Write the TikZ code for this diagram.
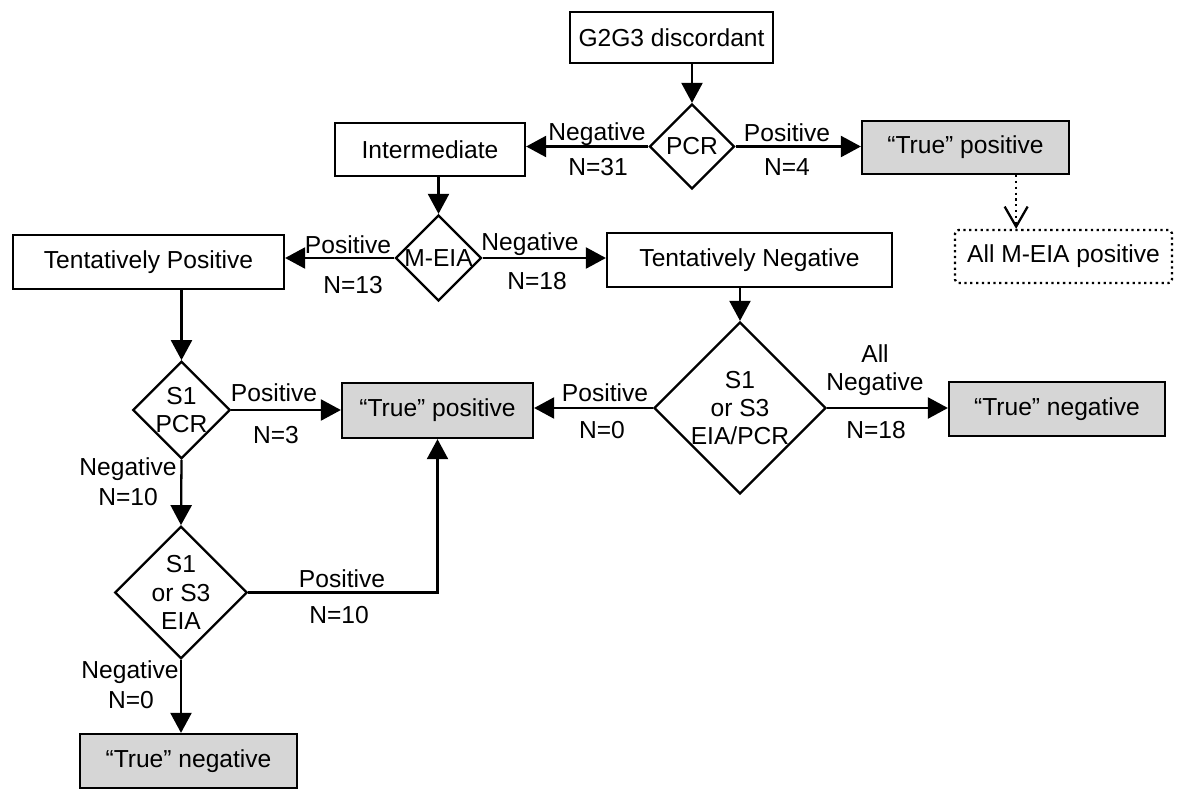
\documentclass[tikz,border=0pt]{standalone}
\usepackage{fontspec}
\setmainfont{Liberation Sans}
\usetikzlibrary{arrows.meta, shapes.geometric}
\definecolor{cshade}{HTML}{D6D6D6}
\tikzset{
  every picture/.style={font=\fontsize{14}{16}\selectfont, line width=1.3pt},
  box/.style={draw, rectangle, align=center, inner sep=2pt, minimum width=#1, minimum height=1.06cm},
  box/.default=4cm,
  outcome/.style={box=#1, fill=cshade},
  choice/.style={draw, diamond, align=center, inner sep=0pt, minimum width=#1, minimum height=#1},
  arrow/.style={-{Triangle[length=4mm, width=4.2mm]}},
  lbl/.style={inner sep=0pt, align=center},
}

\begin{document}
\begin{tikzpicture}[x=0.02cm, y=-0.02cm]
  \useasboundingbox (0,0) rectangle (1179,788);
  % boxes and decisions
  \node[box=4.06cm, minimum height=1.02cm] (disc) at (671.5,37.5) {G2G3 discordant};
  \node[choice=1.7cm] (pcr) at (692,146.5) {PCR};
  \node[box=3.8cm] (inter) at (430,149.5) {Intermediate};
  \node[outcome=4.14cm] (truepos1) at (965.5,147.5) {“True” positive};
  \node[box=4.34cm, dotted, rounded corners=2pt] (allpos) at (1063.5,256.5) {All M-EIA positive};
  \node[choice=1.72cm] (meia) at (438.5,258) {M-EIA};
  \node[box=5.42cm, minimum height=1.08cm] (tentpos) at (148.5,262) {Tentatively Positive};
  \node[box=5.7cm, minimum height=1.08cm] (tentneg) at (749.5,260) {Tentatively Negative};
  \node[choice=1.9cm] (sonepcr) at (181.5,410) {S1\\PCR};
  \node[outcome=3.82cm, minimum height=1.1cm] (truepos2) at (437.5,410.5) {“True” positive};
  \node[choice=3.32cm] (sboth) at (740,408) {S1\\or S3\\EIA/PCR};
  \node[outcome=4.32cm, minimum height=1.08cm] (trueneg1) at (1057,409) {“True” negative};
  \node[choice=2.65cm] (seia) at (181,592.5) {S1\\or S3\\EIA};
  \node[outcome=4.34cm, minimum height=1.08cm] (trueneg2) at (188.5,761) {“True” negative};

  % connectors
  \draw[arrow] (pcr.north |- disc.south) -- (pcr.north);
  \draw[arrow] (pcr.west) -- (pcr.west -| inter.east);
  \draw[arrow] (pcr.east) -- (pcr.east -| truepos1.west);
  \coordinate (dottop) at ([xshift=-1.08cm]truepos1.south east);
  \draw[dotted, -{Straight Barb[length=4mm, width=4.6mm]}] (dottop) -- (dottop |- allpos.north);
  \draw[arrow] (meia.north |- inter.south) -- (meia.north);
  \draw[arrow] (meia.west) -- (meia.west -| tentpos.east);
  \draw[arrow] (meia.east) -- (meia.east -| tentneg.west);
  \draw[arrow] (sonepcr.north |- tentpos.south) -- (sonepcr.north);
  \draw[arrow] (sboth.north |- tentneg.south) -- (sboth.north);
  \draw[arrow] (sonepcr.east) -- (sonepcr.east -| truepos2.west);
  \draw[arrow] (sboth.west) -- (sboth.west -| truepos2.east);
  \draw[arrow] (sboth.east) -- (sboth.east -| trueneg1.west);
  \draw[arrow] (sonepcr.south) -- (seia.north);
  \draw[arrow] (seia.east) -| (truepos2.south);
  \draw[arrow] (seia.south) -- (seia.south |- trueneg2.north);

  % branch labels
  \foreach \txt/\px/\py [count=\i] in {Negative/597/134, N=31/598/167, Positive/787/133, N=4/787/167,
      Positive/348/245, N=13/353/285, Negative/530/244, N=18/537/281,
      Positive/274/393, N=3/276/435, Negative/128/469, N=10/128/497,
      Positive/605/393, N=0/602/430, All\\Negative/875/370, N=18/876/430,
      Positive/342/579, N=10/339/615, Negative/130/672, N=0/131/700}
    \node[lbl] (lab\i) at (\px,\py) {\txt};
\end{tikzpicture}
\end{document}
